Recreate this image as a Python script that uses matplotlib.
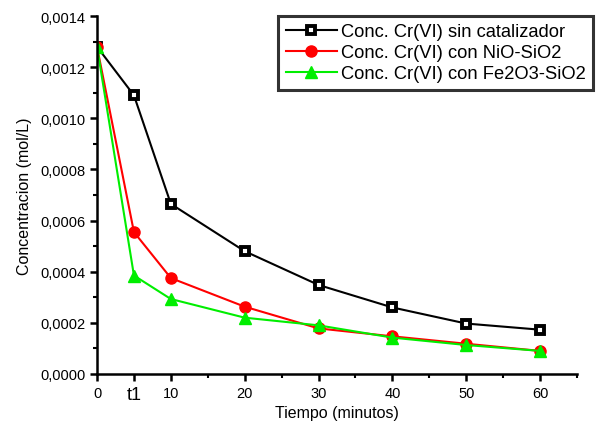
import matplotlib
matplotlib.use('Agg')
import matplotlib.pyplot as plt
from matplotlib.ticker import MultipleLocator, FuncFormatter

plt.rcParams['font.family'] = ['Liberation Sans', 'DejaVu Sans']

tiempo = [0, 5, 10, 20, 30, 40, 50, 60]
sin_cat = [0.00128, 0.00109, 0.000665, 0.00048, 0.000348, 0.00026, 0.000197, 0.000173]
nio_sio2 = [0.00128, 0.000555, 0.000375, 0.000263, 0.000178, 0.000147, 0.000118, 0.00009]
fe2o3_sio2 = [0.00128, 0.000385, 0.000293, 0.00022, 0.00019, 0.000142, 0.000113, 0.00009]

xticks = [0, 5, 10, 20, 30, 40, 50, 60]
xticklabels = ['0', 't1', '10', '20', '30', '40', '50', '60']

fig = plt.figure(figsize=(5.97, 4.27), dpi=100)
ax = fig.add_axes([0.1625, 0.122, 0.804, 0.838])

ax.plot(tiempo, sin_cat, color='black', lw=1.5, marker='s', ms=6,
        mfc='white', mec='black', mew=2.8, label='Conc. Cr(VI) sin catalizador')
ax.plot(tiempo, nio_sio2, color='red', lw=1.5, marker='o', ms=8,
        mfc='red', mec='red', label='Conc. Cr(VI) con NiO-SiO2')
ax.plot(tiempo, fe2o3_sio2, color='#00ee00', lw=1.5, marker='^', ms=9,
        mfc='#00ee00', mec='#00ee00', label='Conc. Cr(VI) con Fe2O3-SiO2')

ax.set_xlim(0, 65)
ax.set_ylim(0, 0.0014)
ax.set_xticks(xticks)
ax.set_xticklabels(xticklabels)
ax.xaxis.set_minor_locator(MultipleLocator(5))
ax.yaxis.set_major_locator(MultipleLocator(0.0002))
ax.yaxis.set_minor_locator(MultipleLocator(0.0001))
ax.yaxis.set_major_formatter(FuncFormatter(lambda v, p: f'{v:.4f}'.replace('.', ',')))

for s in ['top', 'right']:
    ax.spines[s].set_visible(False)
for s in ['left', 'bottom']:
    ax.spines[s].set_linewidth(1.8)
ax.tick_params(which='major', direction='out', length=5, width=1.8, labelsize=10.5)
ax.tick_params(which='minor', direction='out', length=3, width=1.5)
ax.get_xticklabels()[1].set_fontsize(13)

ax.set_xlabel('Tiempo (minutos)', fontsize=11.5)
ax.xaxis.set_label_coords(0.5, -0.088)
ax.set_ylabel('Concentracion (mol/L)', fontsize=11.5, labelpad=6)

leg = ax.legend(loc='upper right', bbox_to_anchor=(1.033, 1.0), fontsize=13.2,
                frameon=True, fancybox=False, handlelength=2.8,
                borderpad=0.4, labelspacing=0.22, handletextpad=0.2,
                borderaxespad=0)
leg.get_frame().set_edgecolor('black')
leg.get_frame().set_linewidth(2.2)

fig.savefig('out.png', dpi=100)
